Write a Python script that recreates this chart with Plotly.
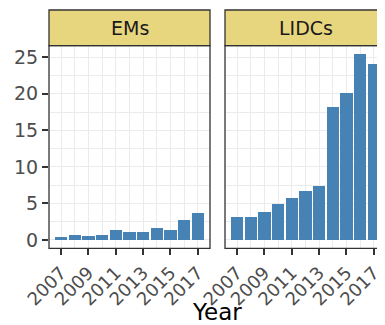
import plotly.graph_objects as go

years = list(range(2007, 2018))
ems = [0.5, 0.68, 0.64, 0.68, 1.37, 1.14, 1.1, 1.69, 1.42, 2.79, 3.74]
lidcs = [3.24, 3.24, 3.84, 4.98, 5.8, 6.71, 7.44, 18.26, 20.18, 25.43, 24.1]
panels = ["EMs", "LIDCs"]
xticks = [2007, 2009, 2011, 2013, 2015, 2017]
yticks = [0, 5, 10, 15, 20, 25]

W, H = 385, 325
OFF = 8  # page body margin offset
BAR = "#4682B4"
STRIP = "#E8D67E"
BORDER = "#333333"
GRID = "#EBEBEB"
TICKC = "#4D4D4D"
FONT = "DejaVu Sans"

px = lambda v: (v - OFF) / W
py = lambda v: (H - (v - OFF)) / H

dom1 = [px(49), px(210)]
dom2 = [px(225), px(386)]
ydom = [py(248.3), py(45.7)]
xrange1 = [2006.12, 2017.9]
xrange2 = xrange1
yrange = [-1.14, 26.58]

fig = go.Figure()
fig.add_trace(go.Bar(x=years, y=ems, marker=dict(color=BAR, line=dict(width=0)),
                     width=0.9, xaxis="x", yaxis="y", showlegend=False))
fig.add_trace(go.Bar(x=years, y=lidcs, marker=dict(color=BAR, line=dict(width=0)),
                     width=0.9, xaxis="x2", yaxis="y2", showlegend=False))

xcommon = dict(tickmode="array", tickvals=xticks, ticktext=[str(t) for t in xticks],
               tickangle=-45, ticks="outside", ticklen=6, tickwidth=1.6, tickcolor=BORDER,
               tickfont=dict(family=FONT, size=18, color=TICKC),
               showgrid=True, gridcolor=GRID, gridwidth=1.3,
               minor=dict(dtick=1, tick0=2006, showgrid=True, gridcolor=GRID, gridwidth=0.8, ticks=""),
               zeroline=False, showline=False, fixedrange=True, automargin=False)
ycommon = dict(range=yrange, tickmode="array", tickvals=yticks,
               showgrid=True, gridcolor=GRID, gridwidth=1.3,
               minor=dict(dtick=2.5, tick0=0, showgrid=True, gridcolor=GRID, gridwidth=0.8, ticks=""),
               zeroline=False, showline=False, domain=ydom, fixedrange=True, automargin=False)

fig.update_layout(
    width=W, height=H, margin=dict(l=0, r=0, t=0, b=0),
    plot_bgcolor="white", paper_bgcolor="white", bargap=0,
    xaxis=dict(domain=dom1, range=xrange1, anchor="y", **xcommon),
    xaxis2=dict(domain=dom2, range=xrange2, anchor="y2", **xcommon),
    yaxis=dict(anchor="x", ticks="outside", ticklen=6, tickwidth=1.6, tickcolor=BORDER,
               tickfont=dict(family=FONT, size=19, color=TICKC), **ycommon),
    yaxis2=dict(anchor="x2", showticklabels=False, ticks="", **ycommon),
)

shapes = []
annotations = []
for dom, name in [(dom1, panels[0]), (dom2, panels[1])]:
    shapes.append(dict(type="rect", xref="paper", yref="paper", x0=dom[0], x1=dom[1],
                       y0=ydom[0], y1=ydom[1], line=dict(color=BORDER, width=1.3),
                       fillcolor="rgba(0,0,0,0)", layer="above"))
    shapes.append(dict(type="rect", xref="paper", yref="paper", x0=dom[0], x1=dom[1],
                       y0=ydom[1], y1=py(10), line=dict(color=BORDER, width=1.3),
                       fillcolor=STRIP, layer="above"))
    cx = (dom[0] + dom[1]) / 2
    annotations.append(dict(text=name, xref="paper", yref="paper", x=cx,
                            y=(ydom[1] + py(10)) / 2, showarrow=False,
                            xanchor="center", yanchor="middle",
                            font=dict(family=FONT, size=19, color="#1A1A1A")))

annotations.append(dict(text="Year", xref="paper", yref="paper", x=px(217), y=py(312),
                        showarrow=False, xanchor="center", yanchor="middle",
                        font=dict(family=FONT, size=23, color="black")))

fig.update_layout(shapes=shapes, annotations=annotations)
fig.write_html("out.html")
